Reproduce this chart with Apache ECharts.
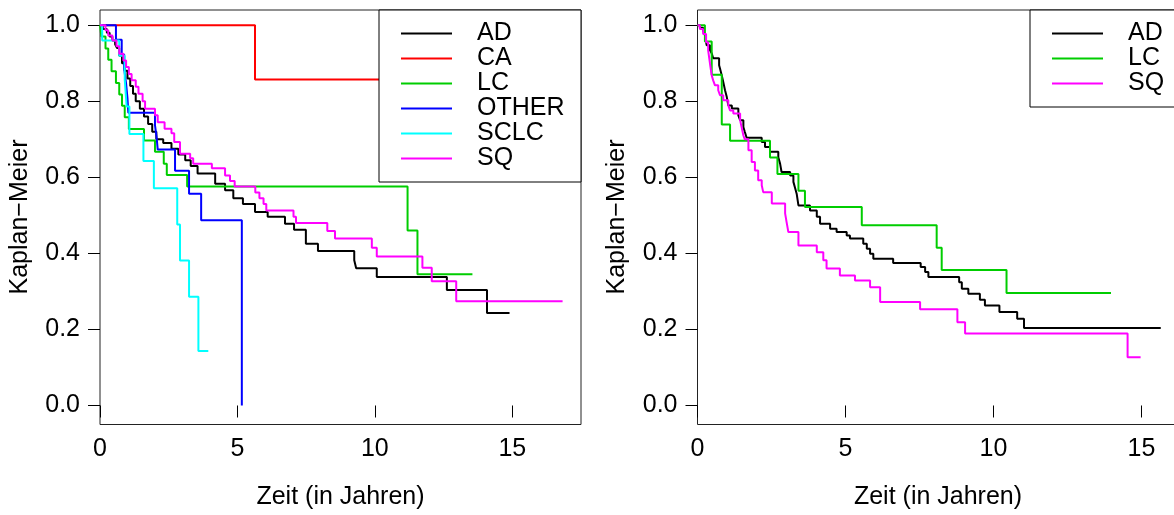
<!DOCTYPE html>
<html>
<head>
<meta charset="utf-8">
<script src="https://cdn.jsdelivr.net/npm/echarts@6/dist/echarts.min.js"></script>
<style>
html,body{margin:0;padding:0;background:#fff;}
#chart{width:1174px;height:515px;}
</style>
</head>
<body>
<div id="chart"></div>
<script>
// ---------- data ----------
// Left panel: survival by histology group (time in years, KM survival)
const L_AD_t = [0,0.1,0.25,0.35,0.45,0.55,0.62,0.7,0.8,0.9,1.0,1.1,1.2,1.3,1.45,1.6,1.75,1.9,2.05,2.3,2.6,2.85,3.1,3.3,3.55,4.19,4.55,4.85,5.2,5.64,6.1,6.73,7.06,7.49,7.93,9.25,9.32,10.07,12.62,14.08,14.9];
const L_AD_s = [1,0.99,0.98,0.97,0.96,0.95,0.94,0.92,0.90,0.88,0.86,0.84,0.82,0.80,0.78,0.76,0.74,0.72,0.70,0.69,0.675,0.66,0.645,0.63,0.61,0.583,0.566,0.545,0.53,0.509,0.496,0.478,0.462,0.425,0.406,0.382,0.361,0.338,0.304,0.243,0.243];
const L_CA_t = [0,5.64,11.5];
const L_CA_s = [1,0.857,0.857];
const L_LC_t = [0,0.05,0.2,0.3,0.42,0.58,0.7,0.8,0.9,1.05,1.6,2.0,2.32,2.43,3.17,11.19,11.55,13.55];
const L_LC_s = [1,0.970,0.939,0.909,0.879,0.848,0.818,0.788,0.758,0.727,0.697,0.667,0.636,0.606,0.576,0.46,0.345,0.345];
const L_OTHER_t = [0,0.58,0.79,0.88,0.95,1.0,1.03,2.0,2.06,2.1,2.73,3.24,3.68,5.16];
const L_OTHER_s = [1,0.962,0.923,0.885,0.846,0.808,0.77,0.737,0.705,0.673,0.617,0.557,0.487,0];
const L_SCLC_t = [0,0.08,0.7,0.9,0.97,1.07,1.58,1.96,2.81,2.91,3.24,3.58,3.94];
const L_SCLC_s = [1,0.96,0.92,0.857,0.786,0.714,0.643,0.571,0.476,0.381,0.286,0.143,0.143];
const L_SQ_t = [0,0.2,0.3,0.45,0.6,0.7,0.85,0.95,1.05,1.15,1.3,1.4,1.55,1.64,2.0,2.1,2.35,2.6,2.7,2.91,3.28,3.39,4.07,4.55,4.73,4.9,5.65,5.8,5.95,6.05,7.04,7.13,8.27,8.55,9.89,10.07,11.73,12.07,12.96,16.83];
const L_SQ_s = [1,0.987,0.973,0.96,0.945,0.925,0.907,0.89,0.872,0.855,0.838,0.82,0.80,0.78,0.763,0.745,0.728,0.716,0.693,0.662,0.65,0.636,0.624,0.605,0.59,0.576,0.56,0.545,0.53,0.513,0.496,0.48,0.459,0.439,0.415,0.392,0.362,0.327,0.274,0.274];

// Right panel
const R_AD_t = [0,0.08,0.19,0.25,0.31,0.42,0.48,0.53,0.73,0.76,0.82,0.87,0.93,0.99,1.04,1.16,1.38,1.44,1.55,1.6,1.66,2.17,2.28,2.45,2.73,2.79,2.84,3.13,3.24,3.29,3.35,3.41,3.8,4.03,4.14,4.48,4.7,5.04,5.15,5.6,5.72,5.83,5.94,6.61,7.54,7.69,7.8,8.84,8.93,9.15,9.54,9.71,10.2,10.8,11.03,15.65];
const R_AD_s = [1,0.993,0.985,0.974,0.947,0.935,0.926,0.913,0.895,0.886,0.868,0.851,0.829,0.811,0.789,0.781,0.763,0.75,0.732,0.719,0.704,0.693,0.68,0.667,0.653,0.636,0.614,0.605,0.588,0.574,0.557,0.526,0.513,0.496,0.478,0.465,0.456,0.447,0.439,0.425,0.412,0.399,0.386,0.375,0.364,0.351,0.338,0.324,0.307,0.294,0.278,0.263,0.246,0.228,0.204,0.204];
const R_LC_t = [0,0.25,0.48,0.82,1.1,2.45,2.7,3.41,3.63,5.55,8.08,8.25,10.44,13.97];
const R_LC_s = [1,0.957,0.870,0.739,0.696,0.652,0.609,0.565,0.522,0.474,0.415,0.356,0.296,0.296];
const R_SQ_t = [0,0.08,0.19,0.29,0.36,0.42,0.48,0.53,0.59,0.70,0.76,0.87,1.04,1.10,1.21,1.44,1.49,1.55,1.60,1.72,1.83,1.94,2.05,2.17,2.22,2.51,2.96,3.01,3.07,3.41,4.03,4.25,4.36,4.81,5.32,5.83,6.17,7.52,8.78,9.04,14.53,14.97];
const R_SQ_s = [1,0.99,0.977,0.955,0.934,0.9,0.868,0.855,0.842,0.829,0.816,0.803,0.789,0.776,0.768,0.75,0.732,0.71,0.70,0.671,0.64,0.618,0.592,0.579,0.561,0.531,0.505,0.482,0.456,0.421,0.403,0.382,0.36,0.342,0.329,0.311,0.272,0.253,0.219,0.189,0.127,0.127];

const leftNames = ['AD','CA','LC','OTHER','SCLC','SQ'];
const rightNames = ['AD','LC','SQ'];
const xTicks = [0,5,10,15];
const yTicks = [0,0.2,0.4,0.6,0.8,1.0];
const xTitle = 'Zeit (in Jahren)';
const yTitle = 'Kaplan\u2212Meier';

// ---------- styling ----------
const colors = {AD:'#000000', CA:'#FF0000', LC:'#00CD00', OTHER:'#0000FF', SCLC:'#00FFFF', SQ:'#FF00FF'};
const FONT = '"Liberation Sans", Arial, Helvetica, sans-serif';
const FS = 25;
const zip = (t, s) => t.map((v, i) => [v, s[i]]);

const leftData = {AD:zip(L_AD_t,L_AD_s), CA:zip(L_CA_t,L_CA_s), LC:zip(L_LC_t,L_LC_s), OTHER:zip(L_OTHER_t,L_OTHER_s), SCLC:zip(L_SCLC_t,L_SCLC_s), SQ:zip(L_SQ_t,L_SQ_s)};
const rightData = {AD:zip(R_AD_t,R_AD_s), LC:zip(R_LC_t,R_LC_s), SQ:zip(R_SQ_t,R_SQ_s)};

function mkX(idx, max){
  return {
    type:'value', gridIndex:idx, min:0, max:max,
    axisLine:{show:false},
    splitLine:{show:false},
    axisTick:{show:true, length:12, customValues:xTicks, lineStyle:{color:'#000', width:1}},
    axisLabel:{customValues:xTicks, margin:12, color:'#000', fontSize:FS, fontFamily:FONT, formatter:v=>String(v)}
  };
}
function mkY(idx){
  return {
    type:'value', gridIndex:idx, min:-0.05, max:1.04,
    axisLine:{show:false},
    splitLine:{show:false},
    axisTick:{show:true, length:12, customValues:yTicks, lineStyle:{color:'#000', width:1}},
    axisLabel:{customValues:yTicks, margin:20, color:'#000', fontSize:FS, fontFamily:FONT, formatter:v=>v.toFixed(1)}
  };
}
function mkSeries(name, data, idx){
  return {
    name:name, type:'line', step:'end', xAxisIndex:idx, yAxisIndex:idx,
    data:data, showSymbol:false, symbol:'none', animation:false,
    lineStyle:{color:colors[name], width:2}, itemStyle:{color:colors[name]},
    emphasis:{disabled:true}
  };
}
function mkLegend(names, left){
  return {
    data:names, orient:'vertical', left:left, top:10,
    backgroundColor:'#fff', borderColor:'#000', borderWidth:1, borderRadius:0,
    padding:[11,14,11,22], itemWidth:51, itemHeight:2, itemGap:0, icon:'rect',
    selectedMode:false,
    textStyle:{fontSize:FS, fontFamily:FONT, color:'#000', lineHeight:23.3, padding:[0,0,0,20], width:90}
  };
}

const series = [];
leftNames.forEach(n => series.push(mkSeries(n, leftData[n], 0)));
rightNames.forEach(n => series.push(mkSeries(n, rightData[n], 1)));

const chart = echarts.init(document.getElementById('chart'), null, {renderer:'canvas'});
chart.setOption({
  backgroundColor:'#fff',
  animation:false,
  grid:[
    {left:100, top:10, width:481, height:414.5, show:true, borderColor:'#222', borderWidth:1, backgroundColor:'transparent', containLabel:false, outerBoundsMode:'none'},
    {left:697.5, top:10, width:481, height:414.5, show:true, borderColor:'#222', borderWidth:1, backgroundColor:'transparent', containLabel:false, outerBoundsMode:'none'}
  ],
  xAxis:[mkX(0, 17.5), mkX(1, 16.25)],
  yAxis:[mkY(0), mkY(1)],
  legend:[mkLegend(leftNames, 379), mkLegend(rightNames, 1030)],
  series:series,
  graphic:[
    {type:'text', x:340.5, y:497, style:{text:xTitle, font:FS+'px '+FONT, fill:'#000', align:'center', verticalAlign:'middle'}},
    {type:'text', x:938, y:497, style:{text:xTitle, font:FS+'px '+FONT, fill:'#000', align:'center', verticalAlign:'middle'}},
    {type:'text', x:20, y:217, rotation:Math.PI/2, style:{text:yTitle, font:FS+'px '+FONT, fill:'#000', align:'center', verticalAlign:'middle'}},
    {type:'text', x:617, y:217, rotation:Math.PI/2, style:{text:yTitle, font:FS+'px '+FONT, fill:'#000', align:'center', verticalAlign:'middle'}}
  ]
});
</script>
</body>
</html>
